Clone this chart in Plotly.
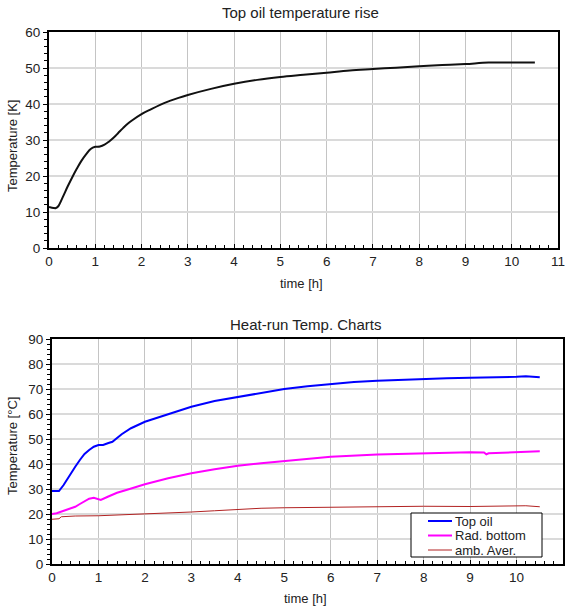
import plotly.graph_objects as go

# ---- Top chart data: Top oil temperature rise [K]
rise_t = [0, 0.1, 0.15, 0.2, 0.3, 0.4, 0.5, 0.6, 0.7, 0.8, 0.9, 1.0, 1.1, 1.2, 1.3, 1.4, 1.5, 1.6, 1.7, 1.8,
          2.0, 2.2, 2.5, 2.8, 3.0, 3.5, 4.0, 4.5, 5.0, 5.5, 6.0, 6.5, 7.0, 7.5, 8.0, 8.5, 9.0, 9.5, 10.0, 10.5]
rise_v = [11.4, 11.1, 11.1, 11.6, 14.2, 17.0, 19.6, 22.0, 24.2, 26.0, 27.5, 28.1, 28.2, 28.7, 29.6, 30.7, 32.0, 33.3, 34.5, 35.5,
          37.2, 38.5, 40.3, 41.7, 42.5, 44.2, 45.6, 46.7, 47.5, 48.1, 48.7, 49.3, 49.7, 50.1, 50.5, 50.8, 51.1, 51.5, 51.5, 51.5]

# ---- Bottom chart data: Heat-run temperatures [°C]
series_names = ["Top oil", "Rad. bottom", "amb. Aver."]
series_colors = ["#0000ff", "#ff00ff", "#b22222"]
series_widths = [2, 2, 1]

top_t = [0, 0.15, 0.25, 0.4, 0.5, 0.6, 0.7, 0.8, 0.9, 1.0, 1.1, 1.2, 1.3, 1.5, 1.7, 2.0, 2.5, 3.0, 3.5, 4.0, 4.5,
         5.0, 5.5, 6.0, 6.5, 7.0, 7.5, 8.0, 8.5, 9.0, 9.5, 10.0, 10.2, 10.5]
top_v = [29.2, 29.2, 31.6, 36.3, 38.9, 41.6, 44.0, 45.6, 46.9, 47.6, 47.6, 48.3, 48.9, 51.9, 54.3, 56.9, 60.0, 62.9, 65.2, 66.9, 68.5,
         70.0, 71.1, 72.1, 72.8, 73.3, 73.7, 74.1, 74.3, 74.5, 74.6, 74.9, 75.1, 74.7]

rad_t = [0, 0.1, 0.3, 0.5, 0.6, 0.7, 0.8, 0.9, 1.0, 1.05, 1.2, 1.4, 1.6, 1.8, 2.0, 2.5, 3.0, 3.5, 4.0, 4.5,
         5.0, 6.0, 7.0, 8.0, 9.0, 9.3, 9.35, 9.4, 10.0, 10.5]
rad_v = [20.0, 20.3, 21.6, 22.9, 24.0, 24.9, 26.1, 26.5, 25.9, 25.6, 26.9, 28.5, 29.6, 30.9, 31.9, 34.3, 36.3, 37.9, 39.3, 40.3,
         41.1, 42.9, 43.8, 44.3, 44.7, 44.6, 43.9, 44.3, 44.9, 45.1]

amb_t = [0, 0.15, 0.2, 0.5, 1.0, 1.5, 2.0, 2.5, 3.0, 3.5, 4.0, 4.5, 5.0, 6.0, 7.0, 8.0, 9.0, 10.0, 10.2, 10.5]
amb_v = [17.9, 18.1, 18.9, 19.2, 19.3, 19.6, 19.9, 20.3, 20.8, 21.3, 21.9, 22.3, 22.5, 22.7, 23.0, 23.1, 23.0, 23.0, 23.3, 22.9]

FONT = "Liberation Sans, Arial, sans-serif"
W, H = 570, 610
TICK_SIZE = 13.5

fig = go.Figure()
fig.add_trace(go.Scatter(x=rise_t, y=rise_v, mode="lines", line=dict(color="#111111", width=2, shape="spline"),
                         showlegend=False, xaxis="x", yaxis="y"))
for (tt, vv), nm, col, wd in zip([(top_t, top_v), (rad_t, rad_v), (amb_t, amb_v)],
                                 series_names, series_colors, series_widths):
    fig.add_trace(go.Scatter(x=tt, y=vv, mode="lines", name=nm, showlegend=False,
                             line=dict(color=col, width=wd), xaxis="x2", yaxis="y2"))

def xax(domain, anchor):
    return dict(domain=domain, anchor=anchor, range=[0, 11], dtick=1, tick0=0,
                showgrid=True, gridcolor="#c4c4c4", gridwidth=1,
                showline=True, linecolor="black", linewidth=2, mirror=True,
                ticks="inside", ticklen=4, tickcolor="black",
                minor=dict(dtick=0.2, ticks="inside", ticklen=3, tickcolor="black", showgrid=False),
                tickfont=dict(family=FONT, size=TICK_SIZE, color="#222"), zeroline=False, fixedrange=True,
                automargin=False)

def yax(domain, anchor, rng):
    return dict(domain=domain, anchor=anchor, range=rng, dtick=10, tick0=0,
                showgrid=True, gridcolor="#dadada", gridwidth=2,
                showline=True, linecolor="black", linewidth=2, mirror=True,
                ticks="outside", ticklen=4, tickcolor="black",
                minor=dict(dtick=2, ticks="outside", ticklen=3, tickcolor="black", showgrid=False),
                tickfont=dict(family=FONT, size=TICK_SIZE, color="#222"), zeroline=False, fixedrange=True,
                automargin=False)

top_xd = [49 / W, 558 / W]
top_yd = [(H - 248) / H, (H - 32) / H]
bot_xd = [52 / W, 563 / W]
bot_yd = [(H - 564) / H, (H - 339) / H]

fig.update_layout(
    width=W, height=H,
    margin=dict(l=0, r=0, t=0, b=0, autoexpand=False),
    paper_bgcolor="white", plot_bgcolor="white",
    font=dict(family=FONT, size=12, color="#222"),
    xaxis=xax(top_xd, "y"),
    yaxis=yax(top_yd, "x", [0, 60]),
    xaxis2=xax(bot_xd, "y2"),
    yaxis2=yax(bot_yd, "x2", [0, 90]),
    showlegend=False,
)

def px(x, y):
    return x / W, (H - y) / H

def ann(text, x, y, size=12, angle=0, xanchor="center"):
    ax_, ay_ = px(x, y)
    fig.add_annotation(text=text, x=ax_, y=ay_, xref="paper", yref="paper",
                       showarrow=False, textangle=angle, xanchor=xanchor, yanchor="middle",
                       font=dict(family=FONT, size=size, color="#222"))

ann("Top oil temperature rise", 300, 13, 15)
ann("time [h]", 301, 283, 13)
ann("Temperature [K]", 12, 146, 13, -90)
ann("Heat-run Temp. Charts", 305, 324, 15)
ann("time [h]", 305, 598, 13)
ann("Temperature [°C]", 12, 446, 13, -90)

# ---- legend box (bottom chart)
x0, y0 = px(411, 513)
x1, y1 = px(542, 557)
fig.add_shape(type="rect", xref="paper", yref="paper", x0=x0, y0=y1, x1=x1, y1=y0,
              line=dict(color="black", width=1), fillcolor="white", layer="above")
for i, (nm, col, wd) in enumerate(zip(series_names, series_colors, series_widths)):
    yy = 521 + i * 14.5
    lx0, ly = px(428, yy)
    lx1, _ = px(452, yy)
    fig.add_shape(type="line", xref="paper", yref="paper", x0=lx0, x1=lx1, y0=ly, y1=ly,
                  line=dict(color=col, width=wd), layer="above")
    ann(nm, 453, yy, 13, 0, "left")

fig.write_html("out.html", config={"displayModeBar": False},
               post_script="document.body.style.margin='0';document.body.style.padding='0';")
